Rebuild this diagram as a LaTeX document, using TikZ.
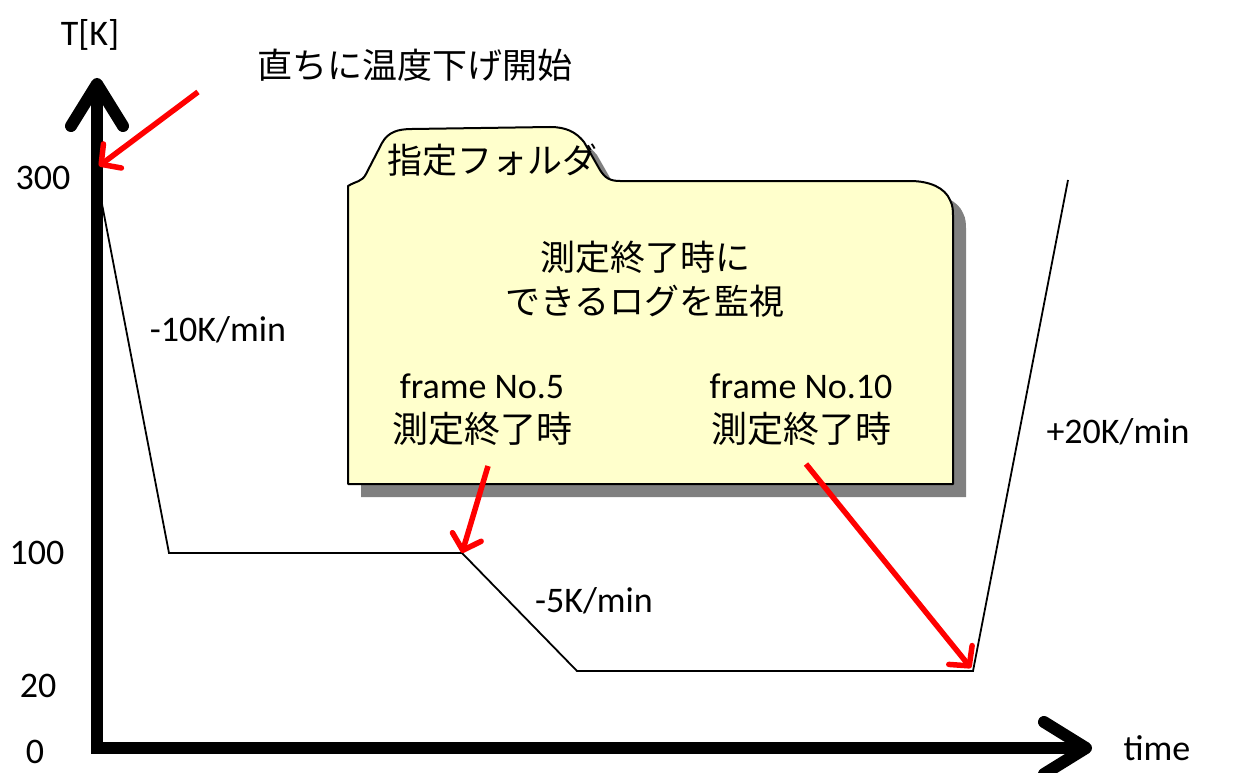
\documentclass[tikz,border=0pt]{standalone}
\usepackage{fontspec}
\setmainfont{Carlito}
\newfontfamily\jp{Noto Sans CJK JP}
\usetikzlibrary{arrows.meta}
\begin{document}
\begin{tikzpicture}[x=1pt,y=-1pt,
  lbl/.style={inner sep=0pt,font=\fontsize{36}{44}\selectfont,text=black},
  jlbl/.style={lbl,font=\fontsize{35}{44}\selectfont\jp},
  axis/.style={line width=12pt,line join=miter,
     {Straight Barb[length=42pt,width=52pt,line cap=round,line join=round]}-{Straight Barb[length=42pt,width=52pt,line cap=round,line join=round]}},
  curve/.style={line width=1.8pt,black},
  redarrow/.style={line width=5.5pt,red,-{Straight Barb[length=14pt,width=30pt,line cap=round,line join=round]}},
  folderfill/.style={fill={rgb,255:red,255;green,255;blue,204},draw=black,line width=2pt,line join=round},
  foldershadow/.style={fill={rgb,255:red,128;green,128;blue,128}}
]
\useasboundingbox (0,0) rectangle (1245,773);
\def\folderpath{(348,484) -- (348,186) .. controls (356,181) and (362,182) .. (366,174) -- (382,143) .. controls (388,132) and (398,129) .. (412,129) -- (550,127) .. controls (566,127) and (576,132) .. (584,142) -- (600,170) .. controls (605,178) and (610,181) .. (620,181) -- (910,181) .. controls (930,181) and (945,188) .. (950,200) .. controls (953,206) and (953,210) .. (953,218) -- (953,484) -- cycle}

% folder
\fill[foldershadow,shift={(13,13)}] \folderpath;
\path[folderfill] \folderpath;
\node[jlbl] (ftitle) at (492,160) {指定フォルダ};
\node[jlbl,align=center] (watch) at (645,279) {測定終了時に\\できるログを監視};
\node[lbl,align=center] (f5) at (482,410) {frame No.5\\{\jp 測定終了時}};
\node[lbl,align=center] (f10) at (801,410) {frame No.10\\{\jp 測定終了時}};

% axes
\coordinate (ytip) at (97,78);
\coordinate (origin) at (97,748);
\coordinate (xtip) at (1092,748);
\draw[axis] (ytip) -- (origin) -- (xtip);

% axis labels
\node[lbl] (tk) at (90,35) {T[K]};
\node[lbl] (t300) at (43,178) {300};
\node[lbl] (t100) at (37,553) {100};
\node[lbl] (t20) at (38,686) {20};
\node[lbl] (t0) at (35,752) {0};
\node[lbl] (time) at (1157,748) {time};

% temperature curve
\coordinate (p0) at (97,178);
\coordinate (p1) at (169,553);
\coordinate (p2) at (462,553);
\coordinate (p3) at (577,671);
\coordinate (p4) at (973,671);
\coordinate (p5) at (1068,180);
\draw[curve] (p0) -- (p1) -- (p2) -- (p3) -- (p4) -- (p5);

\node[lbl] (r10) at (218,330) {-10K/min};
\node[lbl] (r5) at (594,601) {-5K/min};
\node[lbl] (r20) at (1118,432) {+20K/min};

% title
\node[jlbl] (title) at (415,65) {直ちに温度下げ開始};

% red arrows
\coordinate (a0s) at (198,92);
\coordinate (a0e) at (99,166);
\draw[redarrow] (a0s) -- (a0e);
\coordinate (a1s) at (488,466);
\draw[redarrow] (a1s) -- (p2);
\coordinate (a2s) at (806,464);
\coordinate (a2e) at (971,668);
\draw[redarrow] (a2s) -- (a2e);
\end{tikzpicture}
\end{document}
